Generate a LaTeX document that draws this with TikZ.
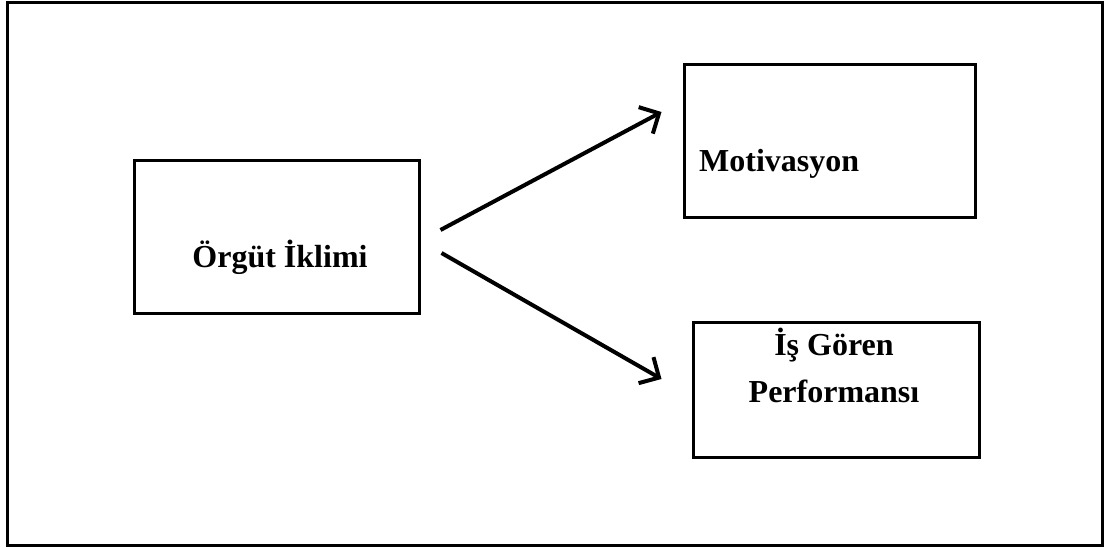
\documentclass[tikz,border=0pt]{standalone}
\usepackage{fontspec}
\setmainfont{Liberation Serif}
\usetikzlibrary{positioning, arrows.meta}

\begin{document}
\begin{tikzpicture}[
  x=1pt, y=-1pt,
  font=\fontsize{32}{47}\selectfont\bfseries,
  every node/.style={align=center},
  frame/.style={draw=black, line width=3pt},
  box/.style={draw=black, line width=3pt, inner sep=0pt},
  flow/.style={-{Straight Barb[length=15pt,width=30pt,line width=4pt]},
               draw=black, line width=4pt},
]

% ---------- canvas ----------
\useasboundingbox (0,0) rectangle (1104,548);
\draw[frame] (7,3) rectangle (1102,545);

% ---------- boxes ----------
\node[box, minimum width=285pt, minimum height=153pt] (klima) at (276.5,237.5) {};
\node[box, minimum width=291pt, minimum height=153pt] (motiv) at (829.5,141.5) {};
\node[box, minimum width=286pt, minimum height=134pt] (perf) at (836,390) {};

% ---------- labels ----------
\node[anchor=base, inner sep=0pt] (klimaT) at (280,268) {Örgüt İklimi};
\node[anchor=base west, inner sep=0pt] (motivT) at (699,172) {Motivasyon};
\node[anchor=base, inner sep=0pt] (perfT) at (834,402) {İş Gören\\Performansı};

% ---------- arrows ----------
\draw[flow] ([shift={(20,-7.5)}]klima.east) -- ([shift={(-21,-29.5)}]motiv.west);
\draw[flow] ([shift={(21,15.5)}]klima.east) -- ([shift={(-30,-11)}]perf.west);

\end{tikzpicture}
\end{document}
